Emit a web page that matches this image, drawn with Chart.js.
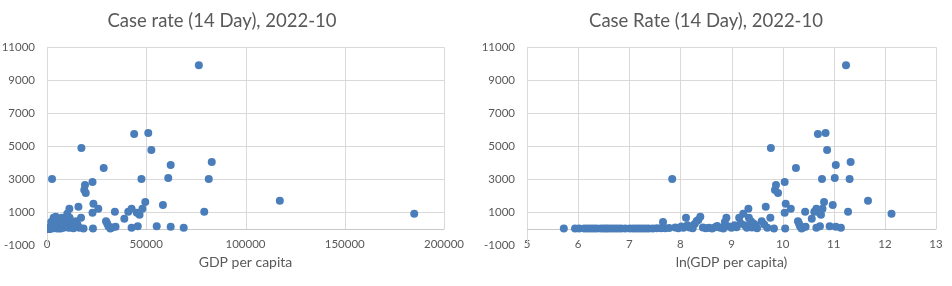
<!DOCTYPE html>
<html>
<head>
<meta charset="utf-8">
<script src="https://cdn.jsdelivr.net/npm/chart.js@4.4.0/dist/chart.umd.min.js"></script>
<style>
  body { margin: 0; background: #fff; }
  .wrap { display: flex; width: 952px; height: 286px; }
  canvas { display: block; }
</style>
</head>
<body>
<div class="wrap">
  <canvas id="gdpChart" width="476" height="286"></canvas>
  <canvas id="lnGdpChart" width="476" height="286"></canvas>
</div>
<script>
// one entry per country, same order in all three arrays
const gdpPerCapita = [
  305, 380, 412, 455, 483, 513, 545, 578, 626, 665,
  699, 735, 780, 829, 880, 934, 1012, 1108, 1188, 1261,
  1339, 1422, 1510, 1604, 1737, 1882, 2038, 2122, 2208, 2392,
  2540, 2697, 2864, 3041, 3165, 3328, 3429, 3569, 3789, 3944,
  4105, 4230, 4403, 4629, 4915, 5219, 5541, 5884, 6124, 6503,
  6905, 7115, 7332, 7708, 8103, 8604, 8955, 9414, 9701, 10198,
  10509, 10938, 11271, 11384, 11849, 12088, 12457, 12965, 13360, 14618,
  15368, 15835, 16318, 17154, 17327, 18398, 18770, 19149, 19535, 22925,
  22925, 23156, 23388, 25848, 28566, 29733, 30333, 30945, 31887, 32859,
  34200, 34544, 38949, 40944, 42616, 42616, 43913, 45250, 45707, 46629,
  47572, 48050, 49512, 51021, 52574, 55270, 58400, 61083, 62318, 62318,
  68874, 76500, 79220, 81500, 83000, 117300, 185000
];
const lnGdpPerCapita = [
  5.72, 5.94, 6.02, 6.12, 6.18, 6.24, 6.30, 6.36, 6.44, 6.50,
  6.55, 6.60, 6.66, 6.72, 6.78, 6.84, 6.92, 7.01, 7.08, 7.14,
  7.20, 7.26, 7.32, 7.38, 7.46, 7.54, 7.62, 7.66, 7.70, 7.78,
  7.84, 7.90, 7.96, 8.02, 8.06, 8.11, 8.14, 8.18, 8.24, 8.28,
  8.32, 8.35, 8.39, 8.44, 8.50, 8.56, 8.62, 8.68, 8.72, 8.78,
  8.84, 8.87, 8.90, 8.95, 9.00, 9.06, 9.10, 9.15, 9.18, 9.23,
  9.26, 9.30, 9.33, 9.34, 9.38, 9.40, 9.43, 9.47, 9.50, 9.59,
  9.64, 9.67, 9.70, 9.76, 9.77, 9.83, 9.85, 9.87, 9.91, 10.04,
  10.04, 10.05, 10.06, 10.16, 10.26, 10.30, 10.32, 10.34, 10.37, 10.40,
  10.44, 10.45, 10.57, 10.62, 10.66, 10.66, 10.69, 10.72, 10.73, 10.75,
  10.77, 10.78, 10.81, 10.84, 10.87, 10.92, 10.98, 11.02, 11.04, 11.04,
  11.14, 11.24, 11.28, 11.31, 11.33, 11.67, 12.13
];
const caseRate = [
  0, 0, 0, 0, 0, 0, 0, 0, 0, 0,
  0, 0, 0, 0, 0, 0, 0, 0, 0, 0,
  0, 0, 0, 0, 0, 10, 20, 400, 10, 30,
  3010, 60, 20, 120, 40, 646, 200, 60, 20, 280,
  450, 520, 707, 60, 20, 40, 0, 80, 160, 40,
  0, 400, 646, 120, 40, 200, 80, 646, 300, 889,
  200, 40, 1192, 646, 444, 60, 303, 200, 20, 444,
  242, 1313, 40, 646, 4889, 0, 2343, 2646, 2162, 950,
  2828, 0, 1495, 1192, 3677, 444, 303, 140, 0, 60,
  1010, 101, 586, 1010, 1192, 40, 5737, 950, 141, 830,
  3010, 1192, 1616, 5798, 4768, 141, 1434, 3071, 3859, 101,
  40, 9900, 1010, 3010, 4040, 1677, 889
];

const gdpRange = [0, 200000, 50000];
const lnGdpRange = [5, 13, 1];
const caseRange = [-1000, 11000, 2000];

const textColor = '#595959';
const gridColor = '#d9d9d9';
const pointColor = '#4a7ebb';
const fontFamily = 'Lato, "Liberation Sans", sans-serif';

// excel style: vertical gridlines stop at the y=0 axis line
const excelGrid = {
    id: 'excelGrid',
    beforeDatasetsDraw(chart) {
        const { ctx, chartArea: a } = chart;
        const x = chart.scales.x, y = chart.scales.y;
        const y0 = Math.round(y.getPixelForValue(0)) + 0.5;
        ctx.save();
        ctx.lineWidth = 1;
        ctx.strokeStyle = gridColor;
        ctx.beginPath();
        y.ticks.forEach(t => {
            if (t.value > 0) {
                const py = Math.round(y.getPixelForValue(t.value)) + 0.5;
                ctx.moveTo(a.left, py);
                ctx.lineTo(a.right, py);
            }
        });
        x.ticks.forEach((t, i) => {
            if (i > 0) {
                const px = Math.round(x.getPixelForValue(t.value)) + 0.5;
                ctx.moveTo(px, a.top);
                ctx.lineTo(px, y0);
            }
        });
        const left = Math.round(a.left) + 0.5;
        ctx.moveTo(left, a.top);
        ctx.lineTo(left, a.bottom);
        ctx.stroke();
        ctx.strokeStyle = '#c8c8c8';
        ctx.beginPath();
        ctx.moveTo(a.left, y0);
        ctx.lineTo(a.right, y0);
        ctx.stroke();
        ctx.restore();
    }
};

const makeScatter = (id, xs, xRange, title, axisTitle, yWidth, rightPad) => {
    const ctx = document.getElementById(id).getContext('2d');
    return new Chart(ctx, {
        type: 'scatter',
        data: {
            datasets: [{
                data: xs.map((v, i) => ({ x: v, y: caseRate[i] })),
                pointRadius: 4,
                pointHoverRadius: 4,
                pointBackgroundColor: pointColor,
                pointBorderWidth: 0
            }]
        },
        options: {
            responsive: false,
            animation: false,
            devicePixelRatio: 1,
            layout: { padding: { left: 0, right: rightPad, top: 0, bottom: 0 } },
            plugins: {
                legend: { display: false },
                tooltip: { enabled: false },
                title: {
                    display: true,
                    text: title,
                    color: textColor,
                    font: { family: fontFamily, size: 18.5, weight: 'normal' },
                    padding: { top: 10, bottom: 15 }
                }
            },
            scales: {
                x: {
                    type: 'linear',
                    min: xRange[0],
                    max: xRange[1],
                    grid: { display: false, drawTicks: false },
                    border: { display: false },
                    ticks: {
                        stepSize: xRange[2],
                        color: textColor,
                        font: { family: fontFamily, size: 11.5 },
                        padding: -8,
                        maxRotation: 0,
                        autoSkip: false,
                        callback: v => String(v)
                    },
                    title: {
                        display: true,
                        text: axisTitle,
                        color: textColor,
                        font: { family: fontFamily, size: 14 },
                        padding: { top: 0, bottom: 15 }
                    },
                    afterFit: s => { s.height = 41; },
                    // labels sit across the plot's lower edge, so don't clip them to the axis box
                    afterUpdate: s => { s._computeLabelArea = () => undefined; }
                },
                y: {
                    min: caseRange[0],
                    max: caseRange[1],
                    grid: { display: false, drawTicks: false },
                    border: { display: false },
                    ticks: {
                        stepSize: caseRange[2],
                        color: textColor,
                        font: { family: fontFamily, size: 11.5 },
                        padding: 12,
                        callback: v => String(v)
                    },
                    afterFit: s => { s.width = yWidth; }
                }
            }
        },
        plugins: [excelGrid]
    });
};

makeScatter('gdpChart', gdpPerCapita, gdpRange, 'Case rate (14 Day), 2022-10', 'GDP per capita', 47, 32);
makeScatter('lnGdpChart', lnGdpPerCapita, lnGdpRange, 'Case Rate (14 Day), 2022-10', 'ln(GDP per capita)', 51, 16);
</script>
</body>
</html>
